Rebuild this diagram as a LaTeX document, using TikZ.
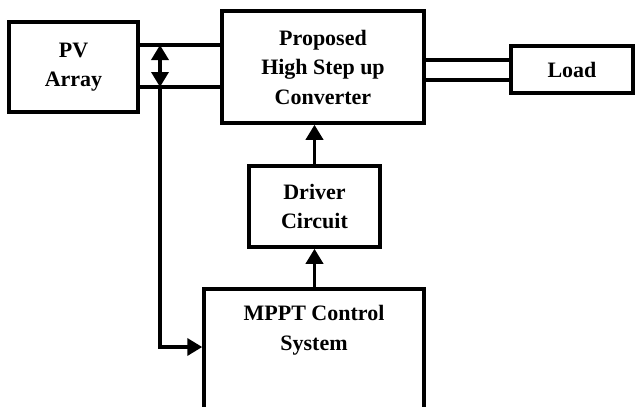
\documentclass[tikz,border=0pt]{standalone}
\usepackage{fontspec}
\setmainfont{Liberation Serif}
\usetikzlibrary{arrows.meta}

\tikzset{
  block/.style={draw, line width=3.5pt, align=center, inner sep=0pt,
    font=\bfseries\fontsize{22}{29.5}\selectfont},
  bus/.style={line width=3.5pt},
  sig/.style={line width=3.5pt, -{Triangle[width=17pt,length=15pt]}},
}

\begin{document}
\begin{tikzpicture}[x=1pt, y=-1pt]
  \useasboundingbox (0,0) rectangle (635,407);

  % blocks
  \node[block, minimum width=129pt, minimum height=90pt] (pv) at (73.5,67) {PV\\Array};
  \node[block, minimum width=202pt, minimum height=112pt] (conv) at (323,67) {Proposed\\High Step up\\Converter};
  \node[block, minimum width=122pt, minimum height=47pt] (load) at (572,69.5) {Load};
  \node[block, minimum width=131pt, minimum height=81pt] (driver) at (314.5,206.5) {Driver\\Circuit};
  \node[block, minimum width=220pt, minimum height=140pt, anchor=north] (mppt) at (314,287) {};
  \node[block, draw=none] (mpptlbl) at (314,330) {MPPT Control\\System};

  % power lines
  \foreach \y in {45,87}
    \draw[bus] (pv.east |- 0,\y) -- (conv.west |- 0,\y);
  \foreach \y in {60,80}
    \draw[bus] (conv.east |- 0,\y) -- (load.west |- 0,\y);

  % sensing tap to the MPPT
  \coordinate (tapt) at (160,45);
  \coordinate (tapb) at (160,87);
  \draw[sig, {Triangle[width=17pt,length=15pt]}-{Triangle[width=17pt,length=15pt]}] (tapt) -- (tapb);
  \draw[sig] (tapb) |- (mppt.west |- 0,347);

  % control path
  \draw[sig] (mppt.north -| driver.south) -- (driver.south);
  \draw[sig] (driver.north) -- (driver.north |- conv.south);
\end{tikzpicture}
\end{document}
